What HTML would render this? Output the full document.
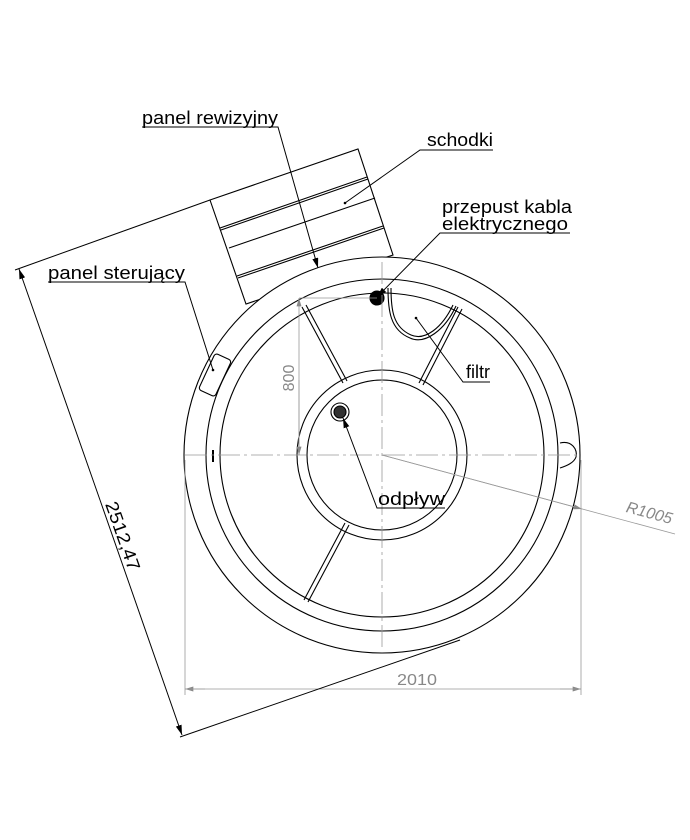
<!DOCTYPE html>
<html><head><meta charset="utf-8"><style>html,body{margin:0;padding:0;background:#fff}svg{display:block}</style></head>
<body>
<svg width="690" height="840" viewBox="0 0 690 840" xmlns="http://www.w3.org/2000/svg" font-family="Liberation Sans, DejaVu Sans, sans-serif">
<defs>
<marker id="a" viewBox="0 0 10 6" refX="10" refY="3" markerWidth="10" markerHeight="6" orient="auto" markerUnits="userSpaceOnUse"><path d="M0,0L10,3L0,6z" fill="#000"/></marker>
<marker id="g" viewBox="0 0 10 6" refX="10" refY="3" markerWidth="10" markerHeight="5" orient="auto" markerUnits="userSpaceOnUse"><path d="M0,0L10,3L0,6z" fill="#888"/></marker>
</defs>
<g fill="none" stroke="#000" stroke-width="1.1">
<polygon points="210,200 358,149 393,255 246,304" fill="#fff"/>
<line x1="220" y1="228" x2="367" y2="177"/><line x1="221" y1="230" x2="368" y2="179"/>
<line x1="229" y1="248" x2="375" y2="198"/>
<line x1="237" y1="276" x2="383" y2="226"/><line x1="238" y1="278" x2="384" y2="228"/>
<circle cx="382" cy="455" r="198" fill="#fff"/>
<circle cx="382" cy="455" r="176"/>
<circle cx="382" cy="455" r="162"/>
<circle cx="382" cy="455" r="85"/>
<circle cx="382" cy="455" r="75"/>
<line x1="302" y1="307" x2="343" y2="383"/><line x1="306" y1="305" x2="347" y2="381"/>
<line x1="458" y1="307" x2="419" y2="383"/><line x1="462" y1="309" x2="423" y2="385"/>
<line x1="345" y1="523" x2="304" y2="600"/><line x1="349" y1="525" x2="308" y2="602"/>
<path d="M388,288 C388,310 390,330 410,338 C425,345 445,330 456,306"/>
<path d="M391,288 C391,310 393,327 411,335 C425,341 442,328 453,305"/>
<path d="M560,443 C572,440 578,450 576,457 C574,463 566,466 560,468"/>
<rect x="-9" y="-20" width="18" height="40" rx="3" transform="translate(215,375) rotate(25)" fill="#fff"/>
<line x1="213" y1="450" x2="213" y2="462" stroke-width="2"/>
<circle cx="377" cy="298" r="7" fill="#000"/>
<circle cx="340" cy="412" r="9"/>
<circle cx="340" cy="412" r="6" fill="#333"/>
</g>
<g stroke="#999" stroke-width="0.8" fill="none">
<line x1="185" y1="455" x2="580" y2="455" stroke-dasharray="22,4,3,4"/>
<line x1="382" y1="262" x2="382" y2="650" stroke-dasharray="22,4,3,4"/>
<line x1="382" y1="455" x2="675" y2="534"/>
<line x1="382" y1="455" x2="582" y2="509" marker-end="url(#g)"/>
<line x1="185" y1="460" x2="185" y2="695"/>
<line x1="581" y1="460" x2="581" y2="695"/>
<line x1="205" y1="689" x2="185" y2="689" marker-end="url(#g)"/>
<line x1="560" y1="689" x2="581" y2="689" marker-end="url(#g)"/>
<line x1="185" y1="689" x2="581" y2="689"/>
<line x1="299" y1="298" x2="377" y2="298"/>
<line x1="299" y1="455" x2="299" y2="298" marker-end="url(#g)"/>
<line x1="299" y1="380" x2="299" y2="455" marker-end="url(#g)"/>
</g>
<g fill="#888" font-size="16">
<text x="397" y="685" textLength="40" lengthAdjust="spacingAndGlyphs">2010</text>
<text transform="translate(294,378) rotate(-90)" text-anchor="middle">800</text>
<text transform="translate(648,518) rotate(15)" text-anchor="middle" font-style="italic">R1005</text>
</g>
<g stroke="#000" stroke-width="1" fill="none">
<line x1="15" y1="270" x2="210" y2="200"/>
<line x1="180" y1="737" x2="460" y2="640"/>
<line x1="100" y1="500" x2="19" y2="269" marker-end="url(#a)"/>
<line x1="100" y1="500" x2="182" y2="735" marker-end="url(#a)"/>
<polyline points="142,127 278,127 318,268" marker-end="url(#a)"/>
<polyline points="493,150 420,150 345,203"/>
<polyline points="570,233 440,233 377,297" marker-end="url(#a)"/>
<polyline points="48,282 185,282 213,370"/>
<polyline points="490,382 463,382 416,318"/>
<polyline points="445,508 377,508 343,418" marker-end="url(#a)"/>
</g>
<g fill="#000"><circle cx="345" cy="203" r="1.3"/><circle cx="213" cy="370" r="1.3"/><circle cx="416" cy="318" r="1.3"/></g>
<g fill="#000" font-size="18" lengthAdjust="spacingAndGlyphs">
<text x="142" y="124" textLength="136" lengthAdjust="spacingAndGlyphs">panel rewizyjny</text>
<text x="427" y="146" textLength="66" lengthAdjust="spacingAndGlyphs">schodki</text>
<text x="442" y="213" textLength="130" lengthAdjust="spacingAndGlyphs">przepust kabla</text>
<text x="442" y="230" textLength="126" lengthAdjust="spacingAndGlyphs">elektrycznego</text>
<text x="48" y="279" textLength="137" lengthAdjust="spacingAndGlyphs">panel sterujący</text>
<text x="466" y="378" textLength="24" lengthAdjust="spacingAndGlyphs">filtr</text>
<text x="378" y="505" textLength="67" lengthAdjust="spacingAndGlyphs">odpływ</text>
<text transform="translate(117,538) rotate(70.6)" x="-36" textLength="72" lengthAdjust="spacingAndGlyphs">2512,47</text>
</g>
</svg>
</body></html>
